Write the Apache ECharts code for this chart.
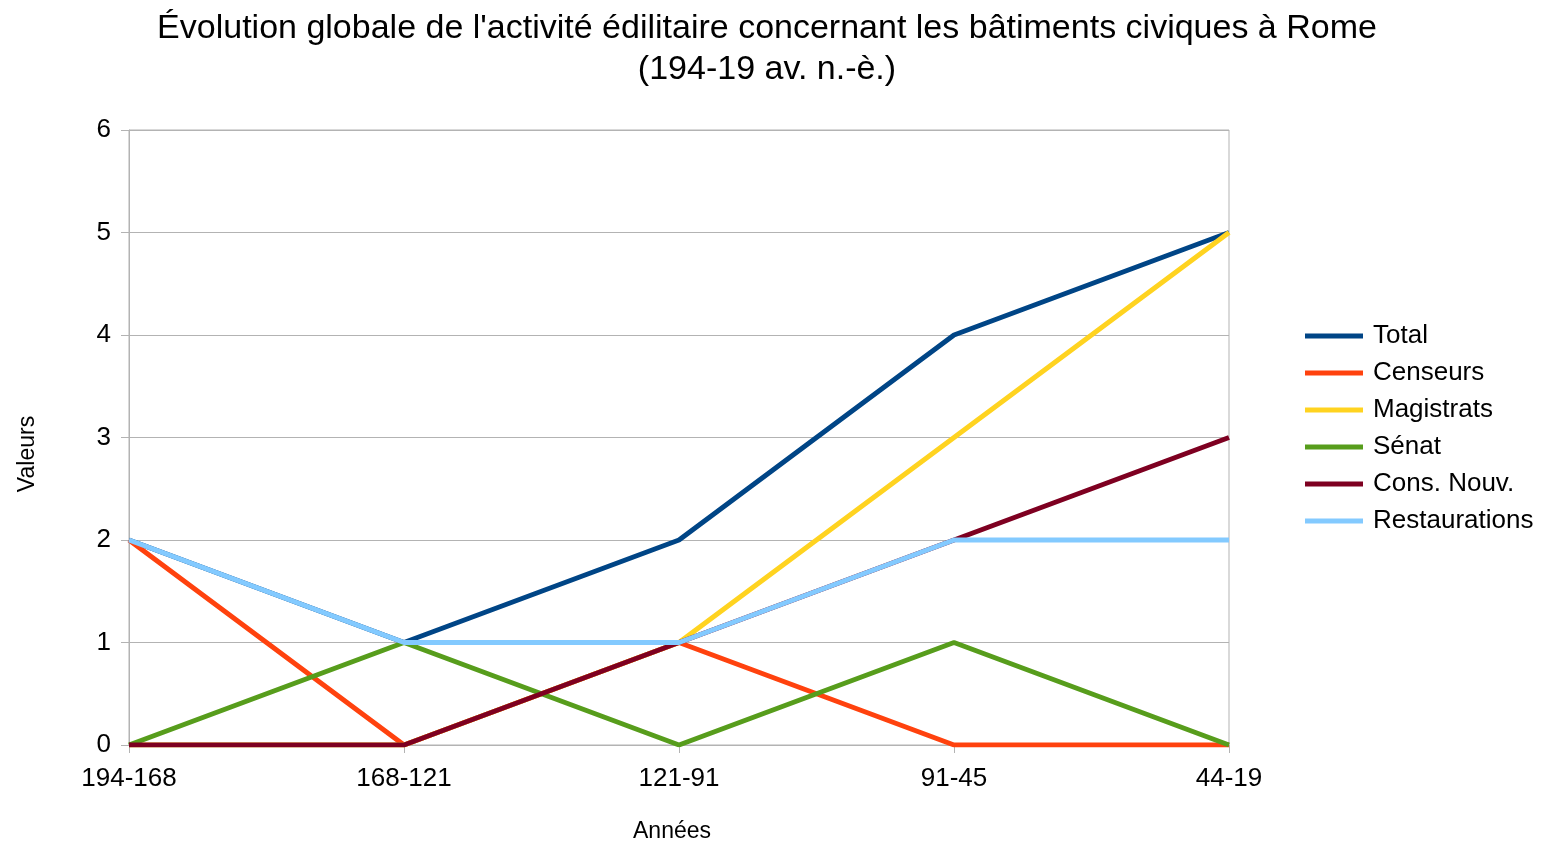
<!DOCTYPE html>
<html>
<head>
<meta charset="utf-8">
<title>Activité édilitaire à Rome</title>
<script src="https://cdn.jsdelivr.net/npm/echarts@6/dist/echarts.min.js"></script>
<style>
  html, body { margin: 0; padding: 0; background: #fff; }
  #chart { width: 1544px; height: 847px; }
</style>
</head>
<body>
<div id="chart"></div>
<script>
// périodes (axe des x)
const periodes = ['194-168', '168-121', '121-91', '91-45', '44-19'];

// valeurs
const total = [2, 1, 2, 4, 5];
const censeurs = [2, 0, 1, 0, 0];
const magistrats = [0, 0, 1, 3, 5];
const senat = [0, 1, 0, 1, 0];
const consNouv = [0, 0, 1, 2, 3];
const restaurations = [2, 1, 1, 2, 2];

const nomsSeries = ['Total', 'Censeurs', 'Magistrats', 'Sénat', 'Cons. Nouv.', 'Restaurations'];
const couleurs = ['#004586', '#ff420e', '#ffd320', '#579d1c', '#7e0021', '#83caff'];
const donnees = [total, censeurs, magistrats, senat, consNouv, restaurations];

const police = 'Liberation Sans, Arial, sans-serif';
const gris = '#b3b3b3';

const chart = echarts.init(document.getElementById('chart'));

const option = {
  animation: false,
  backgroundColor: '#fff',
  title: {
    text: "Évolution globale de l'activité édilitaire concernant les bâtiments civiques à Rome\n(194-19 av. n.-è.)",
    left: 767,
    top: 8,
    padding: 0,
    textAlign: 'center',
    textStyle: {
      fontFamily: police,
      fontSize: 34,
      fontWeight: 'normal',
      color: '#000',
      lineHeight: 41
    }
  },
  legend: {
    orient: 'vertical',
    left: 1300,
    top: 318,
    icon: 'rect',
    itemWidth: 58,
    itemHeight: 5,
    itemGap: 11,
    data: nomsSeries,
    textStyle: {
      fontFamily: police,
      fontSize: 26,
      color: '#000',
      lineHeight: 26,
      padding: [0, 0, 0, 5]
    }
  },
  grid: {
    left: 129,
    right: 315,
    top: 130,
    bottom: 102,
    containLabel: false,
    outerBoundsMode: 'none',
    show: true,
    borderColor: gris,
    borderWidth: 1,
    backgroundColor: 'transparent'
  },
  xAxis: {
    type: 'category',
    data: periodes,
    boundaryGap: false,
    axisLine: { lineStyle: { color: gris, width: 1 } },
    axisTick: { show: true, length: 8, lineStyle: { color: gris } },
    axisLabel: {
      fontFamily: police,
      fontSize: 26,
      color: '#000',
      margin: 21
    },
    splitLine: { show: false }
  },
  yAxis: {
    type: 'value',
    min: 0,
    max: 6,
    interval: 1,
    axisLine: { show: true, lineStyle: { color: gris, width: 1 } },
    axisTick: { show: true, length: 8, lineStyle: { color: gris } },
    axisLabel: {
      fontFamily: police,
      fontSize: 26,
      color: '#000',
      margin: 18
    },
    splitLine: { show: true, lineStyle: { color: gris, width: 1 } }
  },
  graphic: [
    {
      type: 'text',
      x: 28,
      y: 454,
      rotation: Math.PI / 2,
      style: {
        text: 'Valeurs',
        fontFamily: police,
        fontSize: 23,
        fill: '#000',
        align: 'center',
        verticalAlign: 'middle'
      }
    },
    {
      type: 'text',
      x: 672,
      y: 832,
      style: {
        text: 'Années',
        fontFamily: police,
        fontSize: 23,
        fill: '#000',
        align: 'center',
        verticalAlign: 'middle'
      }
    }
  ],
  series: nomsSeries.map((nom, i) => ({
    name: nom,
    type: 'line',
    data: donnees[i],
    symbol: 'none',
    color: couleurs[i],
    lineStyle: { color: couleurs[i], width: 5 },
    emphasis: { disabled: true }
  }))
};

chart.setOption(option);
</script>
</body>
</html>
